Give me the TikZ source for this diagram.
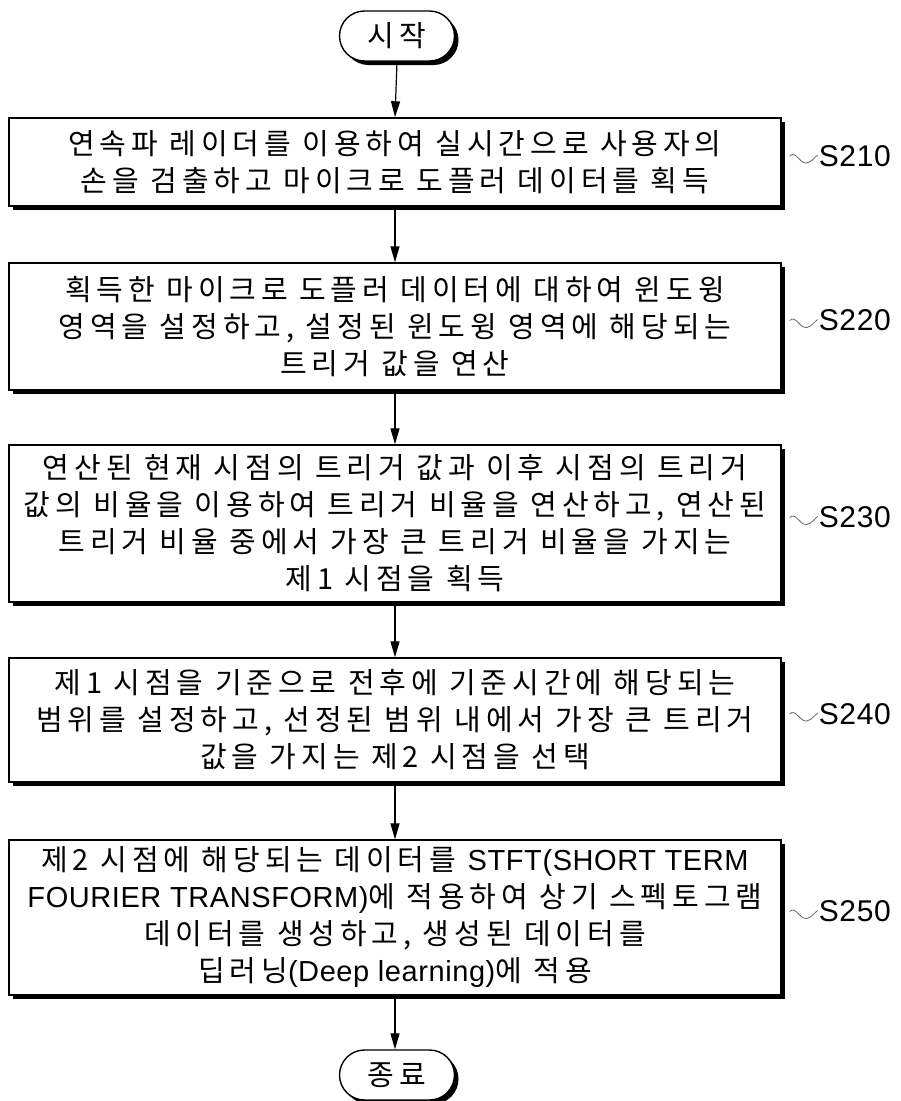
\documentclass[tikz,border=0pt]{standalone}
\usepackage{fontspec}
\setmainfont{Noto Sans CJK KR}[LetterSpace=17]
\newfontfamily\lat{Liberation Sans}[LetterSpace=2]
\usetikzlibrary{arrows.meta,shapes.misc,shadows,calc}
\begin{document}
\begin{tikzpicture}[x=1pt,y=-1pt,
  shad/.style={drop shadow={shadow xshift=4pt,shadow yshift=-4pt,fill=black,opacity=1}},
  box/.style={draw=black,line width=1.4pt,fill=white,minimum width=772pt,align=center,inner sep=0pt,
    font=\fontsize{29}{37}\selectfont,shad},
  term/.style={rounded rectangle,draw=black,line width=1.4pt,fill=white,minimum width=115pt,
    minimum height=50pt,inner sep=0pt,font=\fontsize{29}{30}\selectfont,shad},
  arr/.style={-{Triangle[length=16pt,width=9pt]},line width=1.2pt},
  lab/.style={anchor=west,inner sep=0pt,font=\lat\fontsize{30}{30}\selectfont},
  sq/.style={line width=0.8pt,draw=black!60}
]
\useasboundingbox (0,0) rectangle (901,1101);
\fill[white] (0,0) rectangle (901,1101);

\node[term] (start) at (397,36) {시작};

\node[box,minimum height=88pt] (b1) at (395,162)
  {연속파 레이더를 이용하여 실시간으로 사용자의\\손을 검출하고 마이크로 도플러 데이터를 획득};
\node[box,minimum height=127pt] (b2) at (395,326.5)
  {획득한 마이크로 도플러 데이터에 대하여 윈도윙\\영역을 설정하고, 설정된 윈도윙 영역에 해당되는\\트리거 값을 연산};
\node[box,minimum height=157pt] (b3) at (395,523.5)
  {연산된 현재 시점의 트리거 값과 이후 시점의 트리거\\값의 비율을 이용하여 트리거 비율을 연산하고, 연산된\\트리거 비율 중에서 가장 큰 트리거 비율을 가지는\\제1 시점을 획득};
\node[box,minimum height=124pt] (b4) at (395,720)
  {제1 시점을 기준으로 전후에 기준시간에 해당되는\\범위를 설정하고, 선정된 범위 내에서 가장 큰 트리거\\값을 가지는 제2 시점을 선택};
\node[box,minimum height=155pt] (b5) at (395,917.5)
  {제2 시점에 해당되는 데이터를 {\lat STFT(SHORT TERM}\\{\lat FOURIER TRANSFORM)}에 적용하여 상기 스펙토그램\\데이터를 생성하고, 생성된 데이터를\\딥러닝{\lat (Deep learning)}에 적용};

\node[term] (end) at (397,1075) {종료};

\draw[arr] (start.south) -- (b1.north);
\draw[arr] (b1.south) -- (b2.north);
\draw[arr] (b2.south) -- (b3.north);
\draw[arr] (b3.south) -- (b4.north);
\draw[arr] (b4.south) -- (b5.north);
\draw[arr] (b5.south) -- ($(end.north)+(-2,0)$);

\foreach \b/\t in {b1/S210,b2/S220,b3/S230,b4/S240,b5/S250}{
  \node[lab] (l\b) at ($(\b.east)+(37,-6)$) {\t};
  \draw[sq] ($(\b.east)+(8,-6)$) .. controls ($(\b.east)+(14,-12)$) and ($(\b.east)+(18,2)$) ..
    ($(\b.east)+(25,1)$) .. controls ($(\b.east)+(30,0)$) and ($(\b.east)+(33,-5)$) .. ($(l\b.west)+(-1,-1)$);
}
\end{tikzpicture}
\end{document}
